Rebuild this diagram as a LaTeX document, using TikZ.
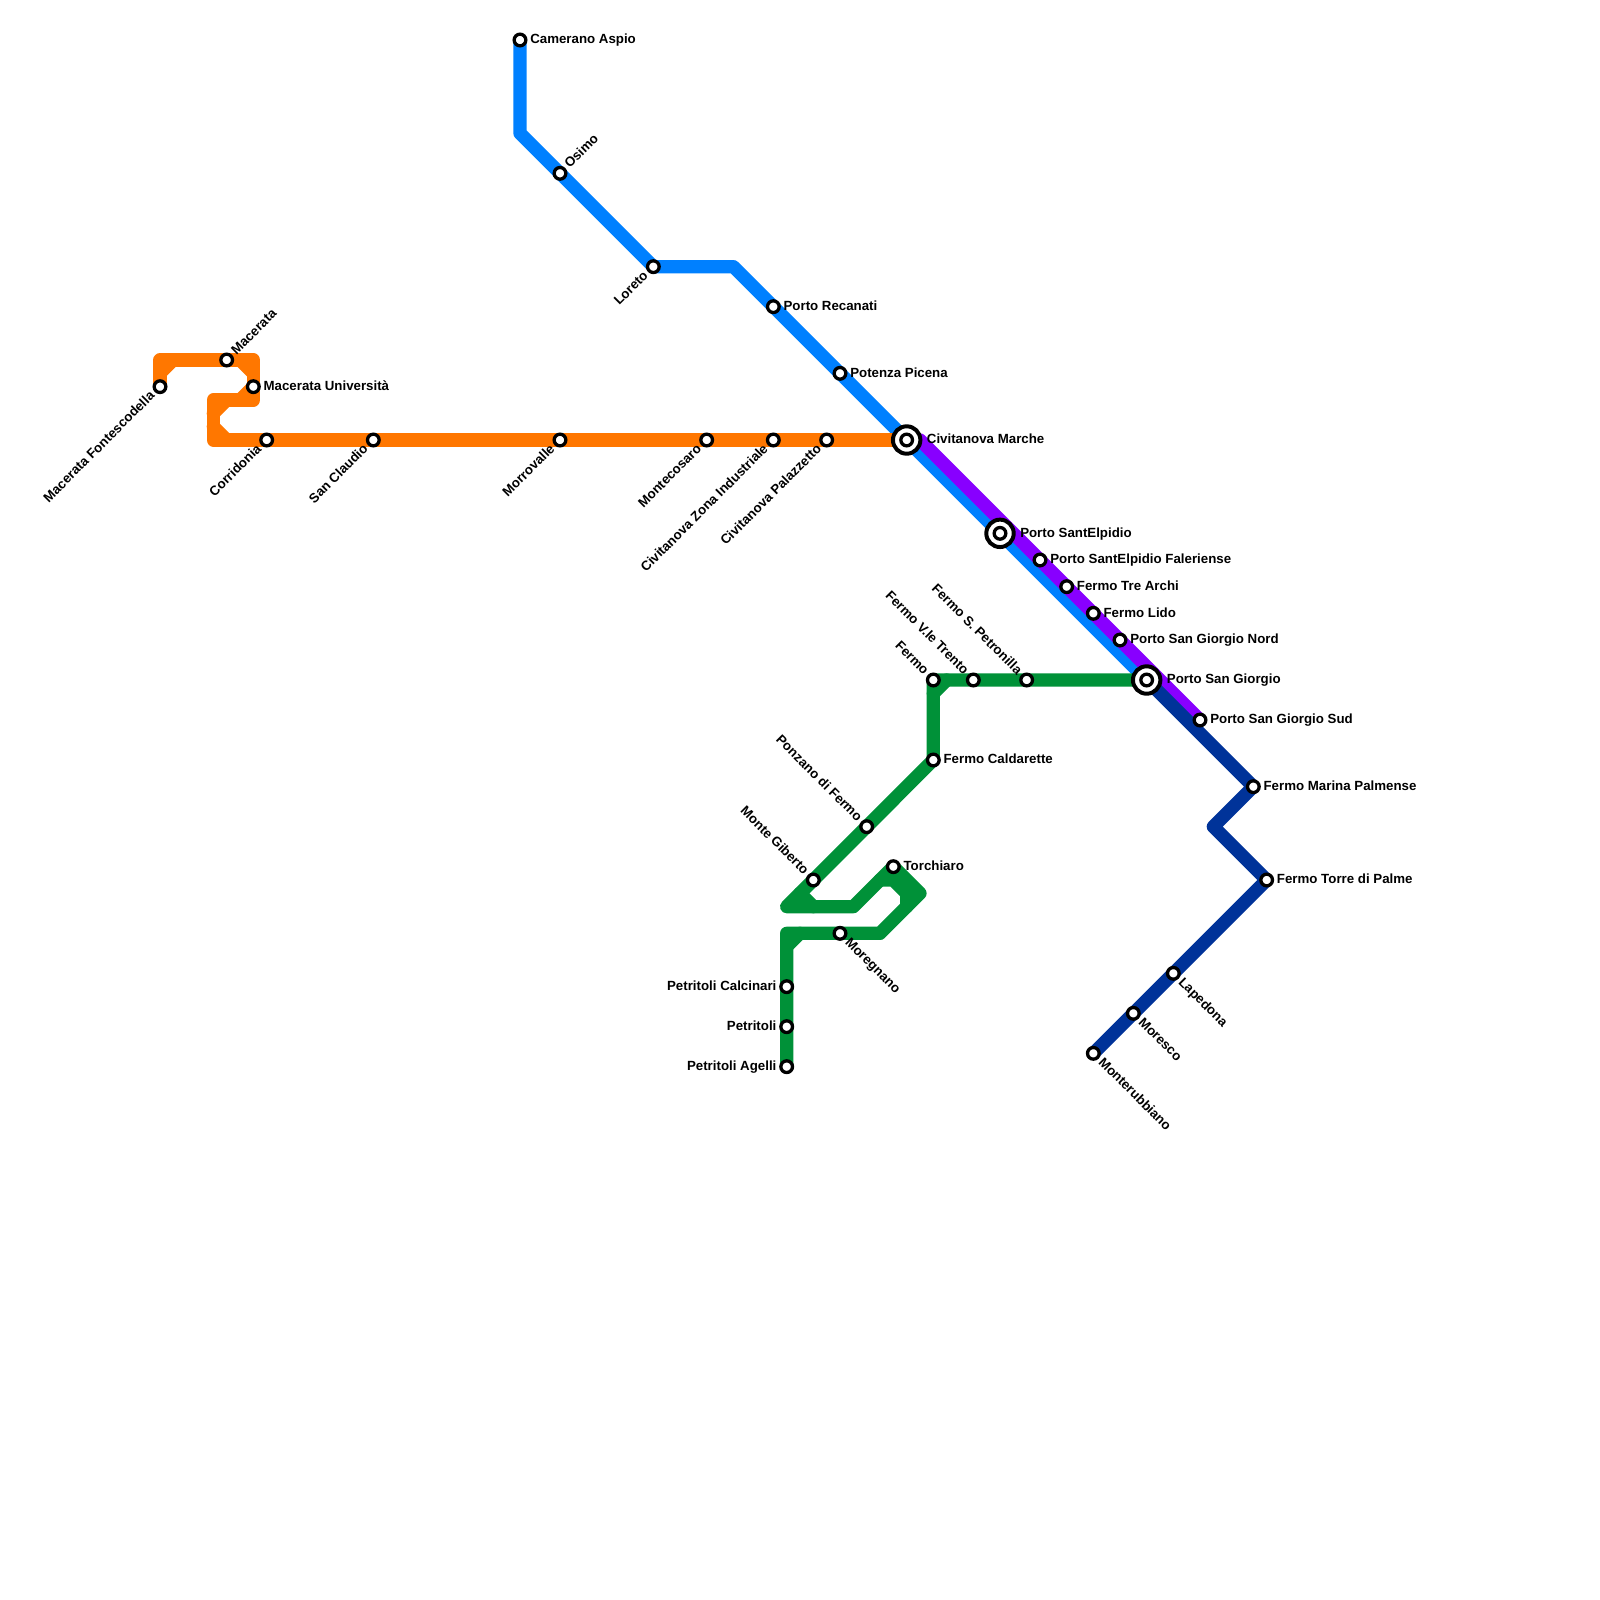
\documentclass[tikz,border=0pt]{standalone}
\usepackage{fontspec}
\setmainfont{Liberation Sans}
\usetikzlibrary{calc,backgrounds}
\definecolor{orangeline}{HTML}{FF7700}
\definecolor{blueline}{HTML}{0080FF}
\definecolor{purpleline}{HTML}{8800FF}
\definecolor{navyline}{HTML}{003399}
\definecolor{greenline}{HTML}{009138}
\tikzset{
  railway/.style={line width=9.45pt,line cap=round,line join=round},
  stn/.style={circle,draw=black,fill=white,line width=2.34pt,minimum size=8.3pt,inner sep=0pt},
  hubring/.style={circle,draw=black,fill=white,line width=2.83pt,minimum size=19.5pt,inner sep=0pt},
  tag/.style={font=\bfseries\fontsize{9.45}{11}\selectfont,inner sep=0pt,text=black},
  tagE/.style={tag,anchor=mid west,xshift=7.1pt},
  tagH/.style={tag,anchor=mid west,xshift=14.2pt},
  tagW/.style={tag,anchor=mid east,xshift=-7.1pt},
  tagNE/.style={tag,anchor=mid west,rotate=45,xshift=7.1pt},
  tagSE/.style={tag,anchor=mid west,rotate=-45,xshift=7.1pt},
  tagSW/.style={tag,anchor=mid east,rotate=45,xshift=-7.1pt},
  tagNW/.style={tag,anchor=mid east,rotate=-45,xshift=-7.1pt},
}
\begin{document}
\begin{tikzpicture}[x=0.025cm,y=-0.025cm]
\useasboundingbox (0,0) rectangle (1600,1600);

% big stations get a ring under the small one
\foreach \n/\x/\y in {civitanova/906.67/440,elpidio/1000/533.33,giorgio/1146.67/680}
  \node[hubring] (\n-ring) at (\x,\y) {};

% all stations: name / x / y / side of label / label
\foreach \n/\x/\y/\d/\t in {
  fontescodella/160/386.67/tagSW/Macerata Fontescodella,
  macerata/226.67/360/tagNE/Macerata,
  universita/253.33/386.67/tagE/Macerata Università,
  corridonia/266.67/440/tagSW/Corridonia,
  claudio/373.33/440/tagSW/San Claudio,
  morrovalle/560/440/tagSW/Morrovalle,
  montecosaro/706.67/440/tagSW/Montecosaro,
  industriale/773.33/440/tagSW/Civitanova Zona Industriale,
  palazzetto/826.67/440/tagSW/Civitanova Palazzetto,
  civitanova/906.67/440/tagH/Civitanova Marche,
  camerano/520/40/tagE/Camerano Aspio,
  osimo/560/173.33/tagNE/Osimo,
  loreto/653.33/266.67/tagSW/Loreto,
  recanati/773.33/306.67/tagE/Porto Recanati,
  potenza/840/373.33/tagE/Potenza Picena,
  elpidio/1000/533.33/tagH/Porto SantElpidio,
  faleriense/1040/560/tagE/Porto SantElpidio Faleriense,
  trearchi/1066.67/586.67/tagE/Fermo Tre Archi,
  lido/1093.33/613.33/tagE/Fermo Lido,
  giorgionord/1120/640/tagE/Porto San Giorgio Nord,
  giorgio/1146.67/680/tagH/Porto San Giorgio,
  giorgiosud/1200/720/tagE/Porto San Giorgio Sud,
  marina/1253.33/786.67/tagE/Fermo Marina Palmense,
  torre/1266.67/880/tagE/Fermo Torre di Palme,
  lapedona/1173.33/973.33/tagSE/Lapedona,
  moresco/1133.33/1013.33/tagSE/Moresco,
  monterubbiano/1093.33/1053.33/tagSE/Monterubbiano,
  fermo/933.33/680/tagNW/Fermo,
  trento/973.33/680/tagNW/Fermo V.le Trento,
  petronilla/1026.67/680/tagNW/Fermo S. Petronilla,
  caldarette/933.33/760/tagE/Fermo Caldarette,
  ponzano/866.67/826.67/tagNW/Ponzano di Fermo,
  giberto/813.33/880/tagNW/Monte Giberto,
  torchiaro/893.33/866.67/tagE/Torchiaro,
  moregnano/840/933.33/tagSE/Moregnano,
  calcinari/786.67/986.67/tagW/Petritoli Calcinari,
  petritoli/786.67/1026.67/tagW/Petritoli,
  agelli/786.67/1066.67/tagW/Petritoli Agelli} {
  \node[stn] (\n) at (\x,\y) {};
  \node[\d] (\n-tag) at (\x,\y) {\t};
}

% bends
\coordinate (oa) at (160,360);
\coordinate (ob) at (253.33,360);
\coordinate (oc) at (253.33,400);
\coordinate (od) at (213.33,400);
\coordinate (oe) at (213.33,440);
\coordinate (ba) at (520,133.33);
\coordinate (bb) at (733.33,266.67);
\coordinate (pa) at (920,440);
\coordinate (na) at (1213.33,826.67);
\coordinate (ga) at (933.33,680);
\coordinate (gb) at (786.67,906.67);
\coordinate (gc) at (853.33,906.67);
\coordinate (gd) at (920,893.33);
\coordinate (ge) at (880,933.33);
\coordinate (gf) at (786.67,933.33);
\coordinate (gg) at (813.33,906.67);
\coordinate (gh) at (880,880);
\coordinate (gi) at (893.33,880);
\coordinate (gj) at (906.67,893.33);
\coordinate (gk) at (906.67,906.67);
\coordinate (gl) at (800,893.33);

\begin{scope}[on background layer]
% blue
\draw[railway,blueline] (camerano.center) -- (ba) -- (loreto.center) -- (bb) -- (civitanova.center) -- (giorgio.center);
% purple
\draw[railway,purpleline] (civitanova.center) -- (pa) -- (giorgiosud.center);
% navy
\draw[railway,navyline] (giorgio.center) -- (marina.center) -- (na) -- (torre.center) -- (monterubbiano.center);
% green
\draw[railway,greenline] (giorgio.center) -- (ga) -- (caldarette.center) -- (gb) -- (gc) -- (torchiaro.center) -- (gd) -- (ge) -- (gf) -- (agelli.center);
\draw[railway,greenline] (gh) -- (gi) -- (gj) -- (gk);
\draw[railway,greenline] (gl) -- (gg);
\foreach \b/\dx/\dy in {ga/1/1,gf/1/1}
  \draw[railway,greenline] ($(\b)+(\dx*13.33,0)$) -- ($(\b)+(0,\dy*13.33)$);
% orange
\draw[railway,orangeline] (fontescodella.center) -- (oa) -- (ob) -- (oc) -- (od) -- (oe) -- (civitanova.center);
\foreach \b/\dx/\dy in {oa/1/1,ob/-1/1,oc/-1/-1,od/1/1,oe/1/-1}
  \draw[railway,orangeline] ($(\b)+(\dx*13.33,0)$) -- ($(\b)+(0,\dy*13.33)$);
\end{scope}
\end{tikzpicture}
\end{document}
